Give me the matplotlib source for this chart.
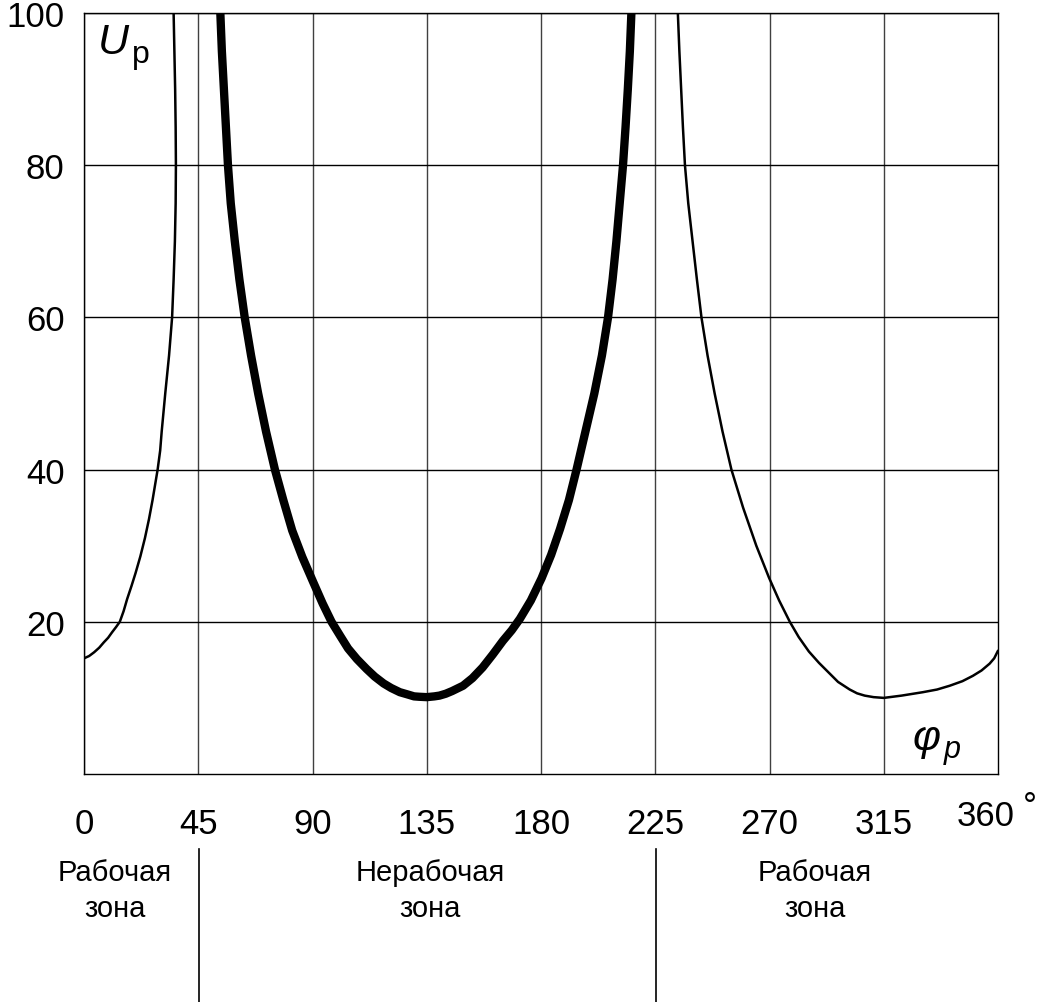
import matplotlib
matplotlib.use("Agg")
import matplotlib.pyplot as plt

plt.rcParams['font.family'] = ['Liberation Sans', 'DejaVu Sans']

# thin curve, left piece (working zone 0..45)
phi_left = [0, 2, 4, 6, 7.8, 9.5, 11, 12.6, 14.1, 15.6, 17, 18.7, 20.3, 22.2, 24, 25.6, 27, 28, 29,
            30, 30.6, 31.3, 32, 33.5, 34.7, 35.3, 35.8, 36.1, 36.2, 36.1, 35.9, 35.6, 35.3]
u_left = [15.2, 15.5, 16, 16.6, 17.3, 17.9, 18.6, 19.3, 20, 21.4, 23, 24.7, 26.4, 28.6, 31, 33.5, 36, 38, 40,
          42.5, 45, 47.5, 50, 55, 60, 65, 70, 75, 80, 85, 90, 95, 100]

# thick curve (non-working zone)
phi_mid = [53.7, 54.3, 55.1, 55.9, 56.7, 57.8, 59.4, 61.2, 63.3, 65.8, 68.6, 71.7, 75.2, 78.5, 82, 86,
           90.3, 94, 97.5, 101, 104, 107.5, 111.3, 114.5, 118, 121, 124.4, 127.5, 130, 132, 135,
           138, 140, 142.5, 145, 149.3, 153, 157, 161, 165, 168.5, 171.7, 176, 180.2, 184, 187.5,
           191, 194, 197.5, 201, 204, 206.4, 208.2, 209.7, 211, 212.3, 213.3, 214.2, 215, 215.6]
u_mid = [100, 95, 90, 85, 80, 75, 70, 65, 60, 55, 50, 45, 40, 36, 32, 28.5,
         25.2, 22.4, 20, 18.1, 16.5, 15.1, 13.8, 12.8, 11.9, 11.3, 10.75, 10.45, 10.2, 10.15, 10.1,
         10.2, 10.3, 10.55, 10.9, 11.6, 12.6, 14, 15.7, 17.5, 18.9, 20.4, 22.8, 25.7, 28.8, 32.2,
         36, 40, 45, 50, 55, 60, 65, 70, 75, 80, 85, 90, 95, 100]

# thin curve, right piece (working zone 225..360)
phi_right = [233.9, 234.5, 235.2, 235.9, 236.7, 238, 239.7, 241.4, 243.2, 245.6, 248.4, 251.5, 255,
             259.6, 264.8, 269.8, 273.8, 278, 281.5, 285.5, 289.5, 293.7, 297, 301.6, 304.5, 307.5,
             311, 315, 322, 330.4, 336, 341, 346, 350.1, 353.5, 356.7, 358.5, 359.4, 360]
u_right = [100, 95, 90, 85, 80, 75, 70, 65, 60, 55, 50, 45, 40,
           35, 30, 25.8, 22.8, 20, 18, 16.1, 14.6, 13.2, 12.1, 11.1, 10.6, 10.3,
           10.1, 10.0, 10.3, 10.75, 11.1, 11.6, 12.2, 12.9, 13.6, 14.5, 15.2, 15.8, 16.2]

x_ticks = [0, 45, 90, 135, 180, 225, 270, 315]
y_ticks = [20, 40, 60, 80, 100]
zone_names = ["Рабочая\nзона", "Нерабочая\nзона", "Рабочая\nзона"]
zone_px = [115, 430, 815]
sep_px = [199, 656]

fig = plt.figure(figsize=(10.4, 10.03), dpi=100)
ax = fig.add_axes([84 / 1040, 1 - 775 / 1003, 914 / 1040, 761 / 1003])

ax.plot(phi_left, u_left, color='black', lw=1.8, solid_capstyle='round')
ax.plot(phi_mid, u_mid, color='black', lw=6.0, solid_capstyle='round')
ax.plot(phi_right, u_right, color='black', lw=1.8, solid_capstyle='round')

ax.set_xlim(0, 360)
ax.set_ylim(0, 100)
ax.set_xticks(x_ticks)
ax.set_yticks(y_ticks)
ax.set_xticklabels([str(v) for v in x_ticks])
ax.tick_params(length=0, labelsize=25, pad=14)
ax.tick_params(axis='x', pad=24)
ax.grid(True, axis='y', color='black', lw=1.0)
ax.grid(True, axis='x', color='#404040', lw=1.0)
ax.set_axisbelow(True)
for s in ax.spines.values():
    s.set_linewidth(1.0)

# 360 and degree sign
fig.text(986 / 1040, 1 - 817 / 1003, "360", fontsize=25, ha='center', va='center')
fig.text(1030 / 1040, 1 - 808 / 1003, "°", fontsize=25, ha='center', va='center')

# axis names
ax.text(0.0155, 0.947, "U", transform=ax.transAxes, fontsize=31, style='italic', va='baseline')
ax.text(0.0525, 0.935, "р", transform=ax.transAxes, fontsize=23, va='baseline')
ax.text(0.906, 0.033, "φ", transform=ax.transAxes, fontsize=31, style='italic', va='baseline')
ax.text(0.941, 0.022, "p", transform=ax.transAxes, fontsize=22, style='italic', va='baseline')

# zones under the axis
for name, px in zip(zone_names, zone_px):
    fig.text(px / 1040, 1 - 891 / 1003, name, fontsize=21, ha='center', va='center', linespacing=1.4)
for px in sep_px:
    fig.add_artist(plt.Line2D([px / 1040, px / 1040], [1 - 850 / 1003, 0], color='black', lw=1.2))

fig.savefig("out.png", dpi=100)
